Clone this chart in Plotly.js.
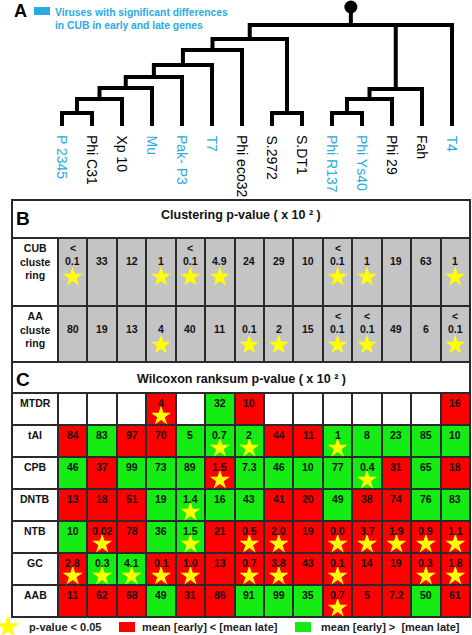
<!DOCTYPE html>
<html><head><meta charset="utf-8">
<script src="https://cdn.plot.ly/plotly-3.0.1.min.js"></script>
<style>html,body{margin:0;padding:0;background:#fff;overflow:hidden}</style>
</head><body><div id="chart" style="width:472px;height:635px"></div>
<script>
// ---------------- DATA ----------------
const viruses = ['P 2345','Phi C31','Xp 10','Mu','Pak- P3','T7','Phi eco32','S.2972','S.DT1','Phi R137','Phi Ys40','Phi 29','Fah','T4'];
const cubDiffers = [1,0,0,1,1,1,0,0,0,1,1,0,0,1];
// tree: leaves are indices into viruses, h = merge height
const tree = {h:101, c:[
  {h:87, c:[
    {h:76, c:[{h:61, c:[{h:49, c:[{h:38, c:[{h:27, c:[{h:13, c:[0,1]}, 2]}, 3]}, 4]}, 5]}, 6]},
    {h:13, c:[7,8]}
  ]},
  {h:37, c:[{h:27, c:[{h:13, c:[9,10]}, 11]}, 12]},
  13
]};
const rootTop = 119;

const clusterRows = ['CUB<br>cluste<br>ring','AA<br>cluste<br>ring'];
const cubClusterP  = ['< 0.1','33','12','1','< 0.1','4.9','24','29','10','< 0.1','1','19','63','1'];
const cubClusterSig= [1,0,0,1,1,1,0,0,0,1,1,0,0,1];
const aaClusterP   = ['80','19','13','4','40','11','0.1','2','15','< 0.1','< 0.1','49','6','< 0.1'];
const aaClusterSig = [0,0,0,1,0,0,1,1,0,1,1,0,0,1];

const wilcoxRows = ['MTDR','tAI','CPB','DNTB','NTB','GC','AAB'];
const mtdrP   = ['','','','4','','32','10','','','','','','','16'];
const mtdrDir = ['','','','<','','>','<','','','','','','','<'];
const mtdrSig = [0,0,0,1,0,0,0,0,0,0,0,0,0,0];
const taiP    = ['84','83','97','70','5','0.7','2','44','11','1','8','23','85','10'];
const taiDir  = ['<','>','<','<','>','>','>','<','<','>','>','>','>','>'];
const taiSig  = [0,0,0,0,0,1,1,0,0,1,0,0,0,0];
const cpbP    = ['46','37','99','73','89','1.5','7.3','46','10','77','0.4','31','65','18'];
const cpbDir  = ['>','<','>','>','>','<','>','>','>','>','>','<','>','<'];
const cpbSig  = [0,0,0,0,0,1,0,0,0,0,1,0,0,0];
const dntbP   = ['13','18','51','19','1.4','16','43','41','20','49','38','74','76','83'];
const dntbDir = ['<','<','<','>','>','>','>','<','<','>','<','<','>','>'];
const dntbSig = [0,0,0,0,1,0,0,0,0,0,0,0,0,0];
const ntbP    = ['10','0.02','78','36','1.5','21','0.5','2.0','19','0.0','3.7','1.9','0.9','1.1'];
const ntbDir  = ['>','<','<','>','>','<','<','<','<','<','<','<','<','<'];
const ntbSig  = [0,1,0,0,1,0,1,1,0,1,1,1,1,1];
const gcP     = ['2.8','0.3','4.1','0.1','1.0','13','0.7','3.8','43','0.1','14','19','0.3','1.8'];
const gcDir   = ['<','>','>','<','<','<','<','<','<','<','<','<','<','<'];
const gcSig   = [1,1,1,1,1,0,1,1,0,1,0,0,1,1];
const aabP    = ['11','62','68','49','31','86','91','99','35','0.7','5','7.2','50','61'];
const aabDir  = ['<','<','<','>','<','<','>','>','>','<','<','<','>','<'];
const aabSig  = [0,0,0,0,0,0,0,0,0,1,0,0,0,0];

// ---------------- STYLE / GEOMETRY ----------------
const FONT = 'Liberation Sans, Arial, Helvetica, sans-serif';
const BLUE = '#29abe2', RED = '#ff0000', GREEN = '#14ec14', GREY = '#c4c4c4', BORDER = '#2a2a2a', STAR = '#ffff00';
const W = 472, H = 635;
const py = p => 1 - p / H, px = p => p / W;
const COL0 = 58, COLW = 29.43, TBL_L = 12;
const colUnit = p => (p - COL0) / COLW - 0.5;
const labelLeft = colUnit(TBL_L);
const labelMid = (labelLeft - 0.5) / 2;
const nCols = viruses.length;
const LEAF0 = 62, LEAFW = 30;

const traces = [], shapes = [], annotations = [];

// ---------------- PANEL A: tree ----------------
const tx = [], ty = [];
function place(node) {
  if (typeof node === 'number') return {x: node, h: 0};
  const kids = node.c.map(place);
  const a = kids[0], b = kids[kids.length - 1];
  tx.push(a.x, a.x, b.x, b.x, null); ty.push(a.h, node.h, node.h, b.h, null);
  kids.slice(1, -1).forEach(k => { tx.push(k.x, k.x, null); ty.push(k.h, node.h, null); });
  return {x: (a.x + b.x) / 2, h: node.h};
}
const root = place(tree);
tx.push(root.x, root.x, null); ty.push(root.h, rootTop, null);
traces.push({type:'scatter', mode:'lines', x:tx, y:ty, xaxis:'x', yaxis:'y',
  line:{color:'#000', width:4}, hoverinfo:'skip', showlegend:false});
traces.push({type:'scatter', mode:'markers', x:[root.x], y:[rootTop], xaxis:'x', yaxis:'y',
  marker:{color:'#000', size:13}, hoverinfo:'skip', showlegend:false});
viruses.forEach((v, i) => annotations.push({xref:'x', yref:'y', x:i, y:-7, text:v, showarrow:false,
  textangle:90, xanchor:'center', yanchor:'top',
  font:{family:FONT, size:14, color: cubDiffers[i] ? BLUE : '#000'}}));
annotations.push({xref:'paper', yref:'paper', x:px(12), y:py(11), xanchor:'left', yanchor:'middle',
  text:'<b>A</b>', showarrow:false, font:{family:FONT, size:18, color:'#000'}});
shapes.push({type:'rect', xref:'paper', yref:'paper', x0:px(34), x1:px(50), y0:py(15), y1:py(7),
  fillcolor:BLUE, line:{width:0}});
annotations.push({xref:'paper', yref:'paper', x:px(53), y:py(12), xanchor:'left', yanchor:'middle',
  text:'<b>Viruses with significant differences</b>', showarrow:false, font:{family:FONT, size:10.3, color:BLUE}});
annotations.push({xref:'paper', yref:'paper', x:px(53), y:py(25), xanchor:'left', yanchor:'middle',
  text:'<b>in CUB in early and late genes</b>', showarrow:false, font:{family:FONT, size:10.3, color:BLUE}});

// ---------------- PANELS B & C: tables ----------------
function panel(cfg) {
  const edges = [cfg.titleH];
  cfg.rowH.forEach(h => edges.push(edges[edges.length - 1] + h));
  const right = nCols - 0.5, inX = 1 / COLW;
  shapes.push({type:'rect', xref:'x2', yref:cfg.yref, layer:'below', x0:labelLeft, x1:right,
    y0:edges[0], y1:edges[edges.length - 1], fillcolor:BORDER, line:{color:BORDER, width:2}});
  shapes.push({type:'rect', xref:'x2', yref:cfg.yref, layer:'below', x0:labelLeft, x1:right,
    y0:0, y1:cfg.titleH, fillcolor:'#fff', line:{color:BORDER, width:2}});
  annotations.push({xref:'x2', yref:cfg.yref, x:colUnit(14), y:cfg.letterY, xanchor:'left', yanchor:'middle',
    text:'<b>' + cfg.letter + '</b>', showarrow:false, font:{family:FONT, size:19, color:'#000'}});
  annotations.push({xref:'x2', yref:cfg.yref, x:(labelLeft + right) / 2, y:cfg.titleY,
    xanchor:'center', yanchor:'middle', text:cfg.title, showarrow:false,
    font:{family:FONT, size:cfg.titleSize, color:'#111'}});
  const sx = [], sy = [];
  cfg.vals.forEach((row, r) => {
    const top = edges[r], h = cfg.rowH[r], vy = top + cfg.valOff;
    // label cell
    shapes.push({type:'rect', xref:'x2', yref:cfg.yref, layer:'below', x0:labelLeft + inX, x1:-0.5 - inX,
      y0:top + 1, y1:top + h - 1, fillcolor:'#fff', line:{width:0}});
    // data cells of this row
    const z = [row.map((v, c) => cfg.dirs ? (cfg.dirs[r][c] === '<' ? 2 : cfg.dirs[r][c] === '>' ? 3 : 0) : 1)];
    traces.push({type:'heatmap', z, x0:0, dx:1, y0:top + h / 2, dy:h, xaxis:'x2', yaxis:cfg.yname,
      colorscale:[[0,'#ffffff'],[1/3,GREY],[2/3,RED],[1,GREEN]], zmin:0, zmax:3,
      showscale:false, xgap:2, ygap:2, hoverinfo:'skip'});
    annotations.push({xref:'x2', yref:cfg.yref, x:labelMid, y:vy, xanchor:'center', yanchor:'middle',
      text:'<b>' + cfg.rows[r] + '</b>', showarrow:false, font:{family:FONT, size:10.5, color:'#111'}});
    row.forEach((v, c) => {
      if (v === '') return;
      let main = v;
      if (v.startsWith('<')) {
        main = v.slice(1).trim();
        annotations.push({xref:'x2', yref:cfg.yref, x:c, y:vy - 13, xanchor:'center', yanchor:'middle',
          text:'<b>&lt;</b>', showarrow:false, font:{family:FONT, size:10.5, color:'#111'}});
      }
      annotations.push({xref:'x2', yref:cfg.yref, x:c, y:vy, xanchor:'center', yanchor:'middle',
        text:'<b>' + main + '</b>', showarrow:false, font:{family:FONT, size:10.5, color:'#111'}});
      if (cfg.sig[r][c]) { sx.push(c); sy.push(top + cfg.starOff); }
    });
  });
  traces.push({type:'scatter', mode:'markers', x:sx, y:sy, xaxis:'x2', yaxis:cfg.yname,
    marker:{symbol:'star', size:15, color:STAR, line:{width:0}}, hoverinfo:'skip', showlegend:false});
}

panel({yname:'y2', yref:'y2', letter:'B', letterY:19, titleY:15, titleH:38, rowH:[68,56], titleSize:12.5,
  title:'<b>Clustering p-value ( x 10 ² )</b>',
  rows:clusterRows, vals:[cubClusterP, aaClusterP], dirs:null, sig:[cubClusterSig, aaClusterSig],
  valOff:23, starOff:39});
panel({yname:'y3', yref:'y3', letter:'C', letterY:17, titleY:17, titleH:31, rowH:[32,32,32,32,32,32,32], titleSize:12.5,
  title:'<b>Wilcoxon ranksum p-value ( x 10 ² )</b>',
  rows:wilcoxRows, vals:[mtdrP, taiP, cpbP, dntbP, ntbP, gcP, aabP],
  dirs:[mtdrDir, taiDir, cpbDir, dntbDir, ntbDir, gcDir, aabDir],
  sig:[mtdrSig, taiSig, cpbSig, dntbSig, ntbSig, gcSig, aabSig], valOff:10, starOff:23});

// ---------------- KEY ----------------
traces.push({type:'scatter', mode:'markers', x:[colUnit(8)], y:[627 - 362], xaxis:'x2', yaxis:'y3',
  marker:{symbol:'star', size:17, color:STAR, line:{width:0}}, hoverinfo:'skip', showlegend:false});
[[27, 'p-value &lt; 0.05'], [140, 'mean [early] &lt; [mean late]'], [319, 'mean [early] &gt;  [mean late]']]
  .forEach(([x, t]) => annotations.push({xref:'paper', yref:'paper', x:px(x), y:py(627), xanchor:'left',
    yanchor:'middle', text:'<b>' + t + '</b>', showarrow:false, font:{family:FONT, size:11, color:'#222'}}));
shapes.push({type:'rect', xref:'paper', yref:'paper', x0:px(119), x1:px(135), y0:py(632), y1:py(622), fillcolor:RED, line:{width:0}});
shapes.push({type:'rect', xref:'paper', yref:'paper', x0:px(295), x1:px(311), y0:py(632), y1:py(622), fillcolor:GREEN, line:{width:0}});

const hid = {visible:false, showgrid:false, zeroline:false, fixedrange:true};
const layout = {
  width:W, height:H, margin:{l:0, r:0, t:0, b:0, pad:0}, paper_bgcolor:'#fff', plot_bgcolor:'rgba(0,0,0,0)',
  showlegend:false, font:{family:FONT},
  xaxis:Object.assign({domain:[0,1], range:[(0 - LEAF0) / LEAFW, (W - LEAF0) / LEAFW], anchor:'y'}, hid),
  yaxis:Object.assign({domain:[py(200), 1], range:[126 - 200, 126], anchor:'x'}, hid),
  xaxis2:Object.assign({domain:[0,1], range:[colUnit(0), colUnit(W)], anchor:'y2'}, hid),
  yaxis2:Object.assign({domain:[py(364), py(196)], range:[164, -4], anchor:'x2'}, hid),
  yaxis3:Object.assign({domain:[0, py(360)], range:[H - 362, -2], anchor:'x2'}, hid),
  shapes, annotations
};
Plotly.newPlot('chart', traces, layout, {staticPlot:true, displayModeBar:false});
</script></body></html>
